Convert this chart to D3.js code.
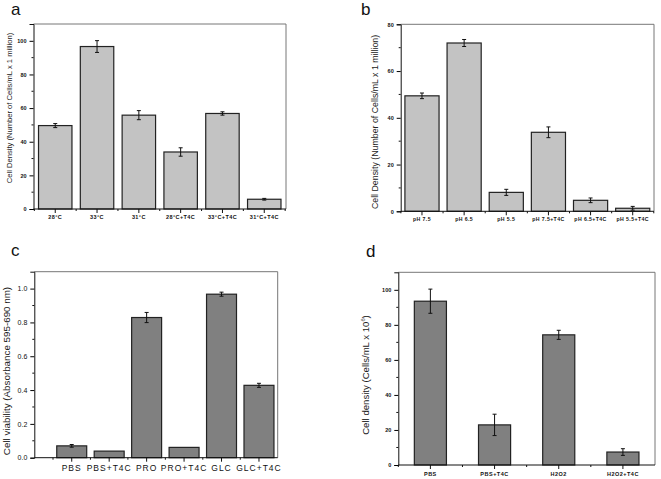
<!DOCTYPE html>
<html><head><meta charset="utf-8">
<script src="https://cdn.jsdelivr.net/npm/d3@7/dist/d3.min.js"></script>
<style>body{margin:0;background:#fff}svg{display:block}</style>
</head><body>
<svg id="c" width="661" height="479"></svg>
<script>
// Panel a
const catsA = ["28°C", "33°C", "31°C", "28°C+T4C", "33°C+T4C", "31°C+T4C"];
const valsA = [49.6, 96.6, 55.8, 33.9, 56.8, 5.8];
const errA = [1.2, 3.5, 2.7, 2.5, 1.0, 0.5];
const ticksA = [0, 20, 40, 60, 80, 100];
// Panel b
const catsB = ["pH 7.5", "pH 6.5", "pH 5.5", "pH 7.5+T4C", "pH 6.5+T4C", "pH 5.5+T4C"];
const valsB = [49.4, 72.0, 8.1, 33.8, 4.7, 1.3];
const errB = [1.2, 1.5, 1.3, 2.3, 1.0, 0.8];
const ticksB = [0, 20, 40, 60, 80];
// Panel c
const catsC = ["PBS", "PBS+T4C", "PRO", "PRO+T4C", "GLC", "GLC+T4C"];
const valsC = [0.070, 0.039, 0.829, 0.061, 0.967, 0.428];
const errC = [0.008, 0, 0.03, 0, 0.012, 0.012];
const ticksC = [0, 0.2, 0.4, 0.6, 0.8, 1.0];
// Panel d
const catsD = ["PBS", "PBS+T4C", "H2O2", "H2O2+T4C"];
const valsD = [93.5, 22.9, 74.3, 7.4];
const errD = [6.9, 6.1, 2.6, 1.9];
const ticksD = [0, 20, 40, 60, 80, 100];

const svg = d3.select("#c");

function panel(o) {
  const g = svg.append("g");
  const x = d3.scaleBand().domain(o.cats).range([o.x0b, o.x1]).paddingInner(o.pi).paddingOuter(o.po);
  const y = d3.scaleLinear().domain(o.dom).range([o.y0, o.y1]);
  // frame
  g.append("line").attr("x1", o.x0).attr("x2", o.x1).attr("y1", o.y1).attr("y2", o.y1).attr("stroke", "#777");
  g.append("line").attr("x1", o.x1).attr("x2", o.x1).attr("y1", o.y1).attr("y2", o.y0).attr("stroke", "#777");
  // bars
  o.cats.forEach((c, i) => {
    g.append("rect").attr("x", x(c)).attr("y", y(o.vals[i])).attr("width", x.bandwidth())
      .attr("height", y(0) - y(o.vals[i])).attr("fill", o.fill).attr("stroke", "#222").attr("stroke-width", 1.2);
    if (o.err[i] > 0) {
      const cx = x(c) + x.bandwidth() / 2;
      const t = y(o.vals[i] + o.err[i]), b = y(o.vals[i] - o.err[i]);
      g.append("line").attr("x1", cx).attr("x2", cx).attr("y1", t).attr("y2", b).attr("stroke", "#111");
      g.append("line").attr("x1", cx - 2).attr("x2", cx + 2).attr("y1", t).attr("y2", t).attr("stroke", "#111");
      g.append("line").attr("x1", cx - 2).attr("x2", cx + 2).attr("y1", b).attr("y2", b).attr("stroke", "#111");
    }
  });
  // y axis
  const ya = g.append("g").attr("transform", `translate(${o.x0},0)`)
    .call(d3.axisLeft(y).tickValues(o.ticks).tickSize(4).tickFormat(o.yfmt));
  ya.select(".domain").attr("stroke", "#111");
  ya.selectAll("text").attr("font-size", o.yfs).attr("font-weight", o.yfw).attr("font-family", "Arial, Liberation Sans, sans-serif").attr("fill", "#111");
  // minor y ticks
  const step = o.ticks[1] - o.ticks[0];
  o.ticks.forEach(t => {
    const m = t + step / 2;
    if (m < o.dom[1]) g.append("line").attr("x1", o.x0 - 2).attr("x2", o.x0).attr("y1", y(m)).attr("y2", y(m)).attr("stroke", "#111");
  });
  // x axis
  g.append("line").attr("x1", o.x0).attr("x2", o.x1).attr("y1", o.y0).attr("y2", o.y0).attr("stroke", "#111");
  o.cats.forEach((c, i) => {
    const cx = x(c) + x.bandwidth() / 2;
    g.append("line").attr("x1", cx).attr("x2", cx).attr("y1", o.y0).attr("y2", o.y0 + 4).attr("stroke", "#111");
    const bx = x(c) - x.step() * x.paddingInner() / 2;
    g.append("line").attr("x1", bx).attr("x2", bx).attr("y1", o.y0).attr("y2", o.y0 + 2).attr("stroke", "#111");
    g.append("text").attr("x", cx).attr("y", o.y0 + o.ly).attr("text-anchor", "middle")
      .attr("font-size", o.xfs).attr("font-weight", o.xfw).attr("letter-spacing", o.ls)
      .attr("font-family", "Arial, Liberation Sans, sans-serif").attr("fill", "#111").text(c);
  });
  const lastB = x(o.cats[o.cats.length - 1]) + x.bandwidth() + x.step() * x.paddingInner() / 2;
  if (lastB < o.x1) g.append("line").attr("x1", lastB).attr("x2", lastB).attr("y1", o.y0).attr("y2", o.y0 + 2).attr("stroke", "#111");
  // y label
  const yl = g.append("text").attr("transform", `translate(${o.lx},${o.lcy}) rotate(-90)`)
    .attr("text-anchor", "middle").attr("font-size", o.lfs).attr("fill", "#222")
    .attr("font-family", "Arial, Liberation Sans, sans-serif");
  if (o.sup) {
    yl.append("tspan").text(o.label);
    yl.append("tspan").attr("dy", -4).attr("font-size", o.lfs * 0.6).text(o.sup);
    yl.append("tspan").attr("dy", 4).text(")");
  } else yl.text(o.label);
  // panel letter
  svg.append("text").attr("x", o.px).attr("y", o.py).attr("font-size", 17).attr("fill", "#111")
    .attr("font-family", "Arial, Liberation Sans, sans-serif").text(o.letter);
}

panel({cats: catsA, vals: valsA, err: errA, ticks: ticksA, dom: [0, 110],
  x0: 33.5, x0b: 33.5, x1: 286, y0: 209, y1: 24, pi: 0.2, po: 0.12, fill: "#c3c3c3",
  yfs: 5.5, yfw: "bold", xfs: 5.5, xfw: "bold", ls: 0.4, ly: 10, yfmt: d3.format("d"),
  lx: 12, lcy: 108, lfs: 7.6, label: "Cell Density (Number of Cells/mL x 1 million)", letter: "a", px: 11, py: 15});
panel({cats: catsB, vals: valsB, err: errB, ticks: ticksB, dom: [0, 80],
  x0: 400.7, x0b: 400.7, x1: 654, y0: 211.3, y1: 24.3, pi: 0.19, po: 0.1, fill: "#c3c3c3",
  yfs: 5.5, yfw: "bold", xfs: 5.2, xfw: "bold", ls: 0.4, ly: 10, yfmt: d3.format("d"),
  lx: 378, lcy: 122, lfs: 8.8, label: "Cell Density (Number of Cells/mL x 1 million)", letter: "b", px: 361, py: 15});
panel({cats: catsC, vals: valsC, err: errC, ticks: ticksC, dom: [0, 1.1],
  x0: 34.3, x0b: 53, x1: 277.7, y0: 457.7, y1: 271.7, pi: 0.2, po: 0.1, fill: "#808080",
  yfs: 7, yfw: "normal", xfs: 8.5, xfw: "normal", ls: 1, ly: 13, yfmt: d3.format(".1f"),
  lx: 10, lcy: 371, lfs: 9.8, label: "Cell viability (Absorbance 595-690 nm)", letter: "c", px: 11, py: 256});
panel({cats: catsD, vals: valsD, err: errD, ticks: ticksD, dom: [0, 110],
  x0: 398.3, x0b: 398.3, x1: 655, y0: 465, y1: 272.3, pi: 0.5, po: 0.25, fill: "#808080",
  yfs: 5.5, yfw: "bold", xfs: 5.5, xfw: "bold", ls: 0.5, ly: 11, yfmt: d3.format("d"),
  lx: 369, lcy: 375, lfs: 9.6, label: "Cell density (Cells/mL x 10", sup: "6", letter: "d", px: 366, py: 257});
</script>
</body></html>
